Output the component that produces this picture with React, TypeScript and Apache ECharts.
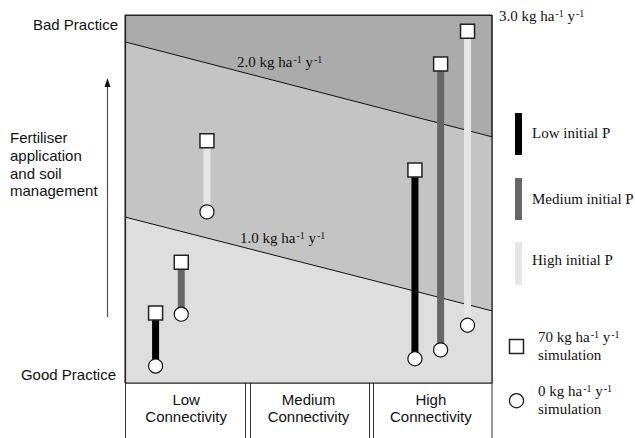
import React, { useEffect, useRef } from "react";
import * as echarts from "echarts";

// ---- data ----
const categories = ["Low\nConnectivity", "Medium\nConnectivity", "High\nConnectivity"];
const pLevels = ["Low initial P", "Medium initial P", "High initial P"];
// x position (connectivity index scale 0..3) of each bar, for Low and High connectivity
const xLowP = [0.25, 2.37];
const xMedP = [0.46, 2.58];
const xHighP = [0.67, 2.80];
// practice score (0 = good, 100 = bad) for 70 kg and 0 kg simulations
const sim70LowP = [19.0, 57.9];
const sim0LowP = [4.6, 6.6];
const sim70MedP = [32.8, 86.7];
const sim0MedP = [18.7, 9.0];
const sim70HighP = [65.8, 95.6];
const sim0HighP = [46.5, 15.7];
// threshold lines (value at x=0 and x=3)
const thresholdX = [0, 3];
const threshold1 = [45.1, 19.6];
const threshold2 = [92.7, 66.9];
const thresholdLabels = ["1.0", "2.0", "3.0"];

const SERIF = "Liberation Serif";
const SANS = "Liberation Sans";

const rich = {
  n: { fontFamily: SERIF, fontSize: 15, fill: "#111", lineHeight: 16 },
  s: { fontFamily: SERIF, fontSize: 10, fill: "#111", verticalAlign: "top", lineHeight: 16, padding: [0, 0, 0, 1] },
};
const unitText = (v: string) => `{n|${v} kg ha}{s|-1}{n| y}{s|-1}`;

export default function App() {
  const ref = useRef<HTMLDivElement>(null);
  useEffect(() => {
    if (!ref.current) return;
    const chart = echarts.init(ref.current, undefined, { renderer: "svg" });
    const pColors = ["#000000", "#666666", "#e6e6e6"];
    const xs = [xLowP, xMedP, xHighP];
    const hi = [sim70LowP, sim70MedP, sim70HighP];
    const lo = [sim0LowP, sim0MedP, sim0HighP];

    const barSeries = pLevels.map((name, k) => ({
      name,
      type: "custom",
      z: 3,
      data: xs[k].map((x, i) => [x, lo[k][i], hi[k][i]]),
      renderItem: (params: any, api: any) => {
        const p1 = api.coord([api.value(0), api.value(2)]);
        const p2 = api.coord([api.value(0), api.value(1)]);
        return {
          type: "rect",
          shape: { x: p1[0] - 3.5, y: p1[1], width: 7, height: p2[1] - p1[1] },
          style: { fill: pColors[k] },
        };
      },
    }));

    const squares: number[][] = [];
    const circles: number[][] = [];
    for (let k = 0; k < 3; k++) {
      xs[k].forEach((x, i) => {
        squares.push([x, hi[k][i]]);
        circles.push([x, lo[k][i]]);
      });
    }

    const labelText = (x: number, y: number, text: string, extra: any = {}) => ({
      type: "text",
      x,
      y,
      z: 10,
      style: { text, fontFamily: SANS, fontSize: 15, fill: "#111", textVerticalAlign: "middle", ...extra },
    });
    const vline = (x: number) => ({
      type: "line",
      shape: { x1: x, y1: 383, x2: x, y2: 438 },
      style: { stroke: "#333", lineWidth: 1 },
    });

    chart.setOption({
      animation: false,
      grid: {
        left: 125,
        top: 15,
        width: 367,
        height: 368,
        show: true,
        backgroundColor: "#ababab",
        borderColor: "#222",
        borderWidth: 1,
      },
      xAxis: [
        { type: "value", min: 0, max: 3, show: false },
        {
          type: "category",
          data: categories,
          position: "bottom",
          axisLine: { show: false },
          axisTick: { show: false },
          splitLine: { show: false },
          axisLabel: { fontFamily: SANS, fontSize: 15, lineHeight: 17, color: "#111", margin: 8 },
        },
      ],
      yAxis: { type: "value", min: 0, max: 100, show: false },
      series: [
        {
          type: "line",
          z: 1,
          data: thresholdX.map((x, i) => [x, threshold2[i]]),
          symbol: "none",
          lineStyle: { color: "#111", width: 1 },
          areaStyle: { color: "#c4c4c4", opacity: 1 },
        },
        {
          type: "line",
          z: 2,
          data: thresholdX.map((x, i) => [x, threshold1[i]]),
          symbol: "none",
          lineStyle: { color: "#111", width: 1 },
          areaStyle: { color: "#dedede", opacity: 1 },
        },
        ...barSeries,
        {
          type: "scatter",
          z: 4,
          data: squares,
          symbol: "rect",
          symbolSize: 14,
          itemStyle: { color: "#fff", borderColor: "#222", borderWidth: 1.5, opacity: 1 },
        },
        {
          type: "scatter",
          z: 4,
          data: circles,
          symbol: "circle",
          symbolSize: 14,
          itemStyle: { color: "#fff", borderColor: "#111", borderWidth: 1.2, opacity: 1 },
        },
      ],
      graphic: [
        // grid frame on top
        {
          type: "rect",
          z: 9,
          shape: { x: 125.5, y: 15.5, width: 366.5, height: 367.5 },
          style: { fill: "none", stroke: "#222", lineWidth: 1.2 },
        },
        // category cells
        vline(125.5),
        vline(245.5),
        vline(250.5),
        vline(369.5),
        vline(373.5),
        vline(492),
        labelText(118, 24, "Bad Practice", { textAlign: "right" }),
        labelText(116, 374, "Good Practice", { textAlign: "right" }),
        {
          type: "text",
          x: 10,
          y: 129,
          style: {
            text: "Fertiliser\napplication\nand soil\nmanagement",
            fontFamily: SANS,
            fontSize: 15,
            lineHeight: 17.7,
            fill: "#111",
            textVerticalAlign: "top",
          },
        },
        { type: "line", shape: { x1: 107.5, y1: 86, x2: 107.5, y2: 317 }, style: { stroke: "#555", lineWidth: 1.2 } },
        { type: "polygon", shape: { points: [[107.5, 78], [104.5, 87], [110.5, 87]] }, style: { fill: "#111" } },
        // threshold labels
        { type: "text", x: 240, y: 238, z: 10, style: { text: unitText(thresholdLabels[0]), rich, textVerticalAlign: "middle" } },
        { type: "text", x: 237, y: 62, z: 10, style: { text: unitText(thresholdLabels[1]), rich, textVerticalAlign: "middle" } },
        { type: "text", x: 499, y: 16, z: 10, style: { text: unitText(thresholdLabels[2]), rich, textVerticalAlign: "middle" } },
        // legend
        { type: "rect", shape: { x: 515, y: 113, width: 7, height: 42 }, style: { fill: pColors[0] } },
        { type: "rect", shape: { x: 515, y: 178, width: 7, height: 42 }, style: { fill: pColors[1] } },
        { type: "rect", shape: { x: 515, y: 242, width: 7, height: 43 }, style: { fill: pColors[2] } },
        { type: "text", x: 532, y: 133, style: { text: pLevels[0], fontFamily: SERIF, fontSize: 15, fill: "#111", textVerticalAlign: "middle" } },
        { type: "text", x: 532, y: 199, style: { text: pLevels[1], fontFamily: SERIF, fontSize: 15, fill: "#111", textVerticalAlign: "middle" } },
        { type: "text", x: 532, y: 260, style: { text: pLevels[2], fontFamily: SERIF, fontSize: 15, fill: "#111", textVerticalAlign: "middle" } },
        {
          type: "rect",
          shape: { x: 509.5, y: 339.5, width: 14, height: 14 },
          style: { fill: "#fff", stroke: "#222", lineWidth: 1.5 },
        },
        { type: "circle", shape: { cx: 516.5, cy: 400.7, r: 7 }, style: { fill: "#fff", stroke: "#111", lineWidth: 1.2 } },
        { type: "text", x: 538, y: 337, style: { text: unitText("70"), rich, textVerticalAlign: "middle" } },
        { type: "text", x: 538, y: 355, style: { text: "simulation", fontFamily: SERIF, fontSize: 15, fill: "#111", textVerticalAlign: "middle" } },
        { type: "text", x: 538, y: 391, style: { text: unitText("0"), rich, textVerticalAlign: "middle" } },
        { type: "text", x: 538, y: 409, style: { text: "simulation", fontFamily: SERIF, fontSize: 15, fill: "#111", textVerticalAlign: "middle" } },
      ],
    });
    return () => chart.dispose();
  }, []);
  return <div ref={ref} style={{ position: "absolute", left: 0, top: 0, width: 635, height: 438 }} />;
}
